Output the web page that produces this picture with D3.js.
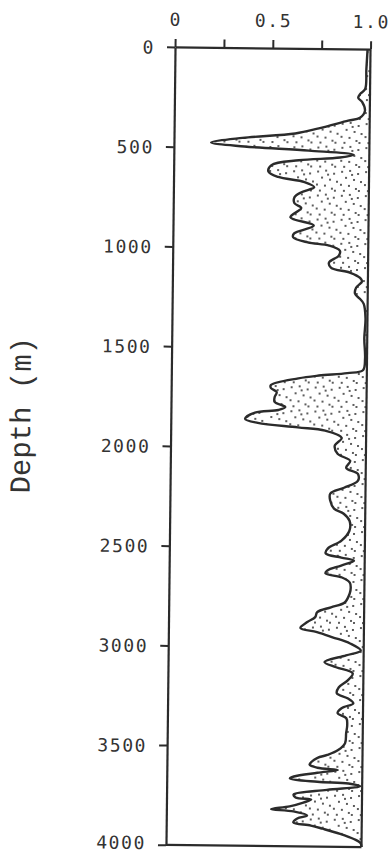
<!DOCTYPE html>
<html><head><meta charset="utf-8">
<script src="https://cdn.jsdelivr.net/npm/d3@7"></script>
<style>html,body{margin:0;padding:0;background:#fff;}svg{display:block;}</style>
</head><body>
<script>
// ---- data ----
const depths = [0,100,200,225,245,265,310,345,360,400,427,452,477,495,512,530,545,561,587,620,646,670,695,721,746,777,800,847,887,928,947,972,987,1012,1037,1072,1097,1122,1147,1165,1197,1227,1252,1277,1350,1450,1550,1610,1625,1639,1654,1689,1704,1724,1749,1774,1799,1814,1829,1860,1880,1900,1915,1950,1990,2030,2065,2100,2130,2165,2200,2230,2265,2305,2330,2365,2415,2465,2505,2530,2550,2565,2590,2615,2630,2650,2675,2700,2730,2775,2800,2825,2850,2875,2905,2925,2950,2980,3015,3040,3075,3100,3130,3165,3200,3230,3255,3280,3305,3330,3355,3390,3430,3480,3515,3540,3555,3575,3590,3605,3615,3630,3650,3660,3675,3682,3695,3715,3740,3755,3765,3780,3800,3815,3825,3845,3860,3880,3895,3910,3935,3960,3980,4000];
const values = [0.985,0.98,0.975,0.95,0.94,0.96,0.975,0.95,0.89,0.74,0.62,0.35,0.19,0.36,0.69,0.92,0.85,0.64,0.50,0.485,0.535,0.67,0.72,0.655,0.62,0.62,0.655,0.60,0.72,0.62,0.615,0.69,0.80,0.855,0.85,0.80,0.81,0.91,0.96,0.97,0.94,0.935,0.96,0.98,0.99,0.985,0.99,0.98,0.90,0.755,0.65,0.51,0.51,0.54,0.53,0.53,0.585,0.55,0.43,0.38,0.445,0.65,0.79,0.875,0.84,0.855,0.92,0.90,0.96,0.96,0.89,0.82,0.82,0.84,0.89,0.92,0.92,0.88,0.81,0.80,0.88,0.945,0.88,0.81,0.80,0.885,0.925,0.93,0.925,0.90,0.83,0.76,0.75,0.71,0.675,0.76,0.84,0.93,0.985,0.91,0.80,0.86,0.945,0.92,0.875,0.865,0.92,0.95,0.89,0.87,0.915,0.92,0.915,0.91,0.875,0.82,0.77,0.74,0.73,0.77,0.875,0.77,0.65,0.63,0.77,0.93,0.99,0.82,0.65,0.66,0.74,0.70,0.63,0.536,0.65,0.72,0.67,0.65,0.74,0.80,0.89,0.96,0.995,1.0];
const xTicks = [0, 0.25, 0.5, 0.75, 1.0];
const xTickLabels = ["0", "", "0.5", "", "1.0"];
const yTicks = [0,500,1000,1500,2000,2500,3000,3500,4000];
const yTitle = "Depth (m)";

// ---- layout ----
const W = 392, H = 853;
const ink = "#2b2b2b";
const svg = d3.select("body").append("svg").attr("width", W).attr("height", H);
const defs = svg.append("defs");
const pat = defs.append("pattern").attr("id","stip").attr("patternUnits","userSpaceOnUse")
  .attr("width",24).attr("height",24);
const dots = [[3,3],[11,2],[19,5],[7,9],[15,11],[22,13],[2,16],[10,17],[17,20],[5,22],[13,6],[20,22]];
dots.forEach(p => pat.append("circle").attr("cx",p[0]).attr("cy",p[1]).attr("r",1.05).attr("fill","#333"));

const g = svg.append("g").attr("transform","rotate(0.65,268,447)");
const x = d3.scaleLinear().domain([0,1]).range([170.5, 366]);
const y = d3.scaleLinear().domain([0,4000]).range([48, 846]);

const data = depths.map((d,i) => ({d, v: values[i]}));

const area = d3.area().y(p => y(p.d)).x0(x(1)).x1(p => x(p.v)).curve(d3.curveCatmullRom.alpha(0.5));
const line = d3.line().y(p => y(p.d)).x(p => x(p.v)).curve(d3.curveCatmullRom.alpha(0.5));

g.append("path").datum(data).attr("d", area).attr("fill","url(#stip)").attr("stroke","none");
g.append("path").datum(data).attr("d", line).attr("fill","none").attr("stroke",ink).attr("stroke-width",2.4).attr("stroke-linejoin","round");

// frame: right and bottom
g.append("line").attr("x1",x(1)).attr("x2",x(1)).attr("y1",y(0)).attr("y2",y(4000)).attr("stroke",ink).attr("stroke-width",2.2);
g.append("line").attr("x1",x(0)).attr("x2",x(1)).attr("y1",y(4000)).attr("y2",y(4000)).attr("stroke",ink).attr("stroke-width",2.2);

const topAxis = g.append("g").attr("transform",`translate(0,${y(0)})`)
  .call(d3.axisTop(x).tickValues(xTicks).tickFormat((d,i) => xTickLabels[i]).tickSize(8).tickSizeOuter(0).tickPadding(13));
const leftAxis = g.append("g").attr("transform",`translate(${x(0)},0)`)
  .call(d3.axisLeft(y).tickValues(yTicks).tickFormat(d3.format("d")).tickSize(8).tickSizeOuter(0).tickPadding(12));

[topAxis,leftAxis].forEach(a => {
  a.selectAll("path.domain").attr("stroke",ink).attr("stroke-width",2.2);
  a.selectAll(".tick line").attr("stroke",ink).attr("stroke-width",2);
  a.selectAll("text").attr("fill","#333").style("font-family","'DejaVu Sans Mono', monospace").style("font-size","18px").style("letter-spacing","1.6px");
});
leftAxis.selectAll("text").attr("dy", d => d === 4000 ? "0.22em" : "0.36em");

g.append("text").attr("transform","translate(30,418) rotate(-90)")
  .attr("text-anchor","middle").attr("fill","#333")
  .style("font-family","'Liberation Mono', 'Courier New', monospace").style("font-size","29px")
  .text(yTitle);
</script>
</body></html>
